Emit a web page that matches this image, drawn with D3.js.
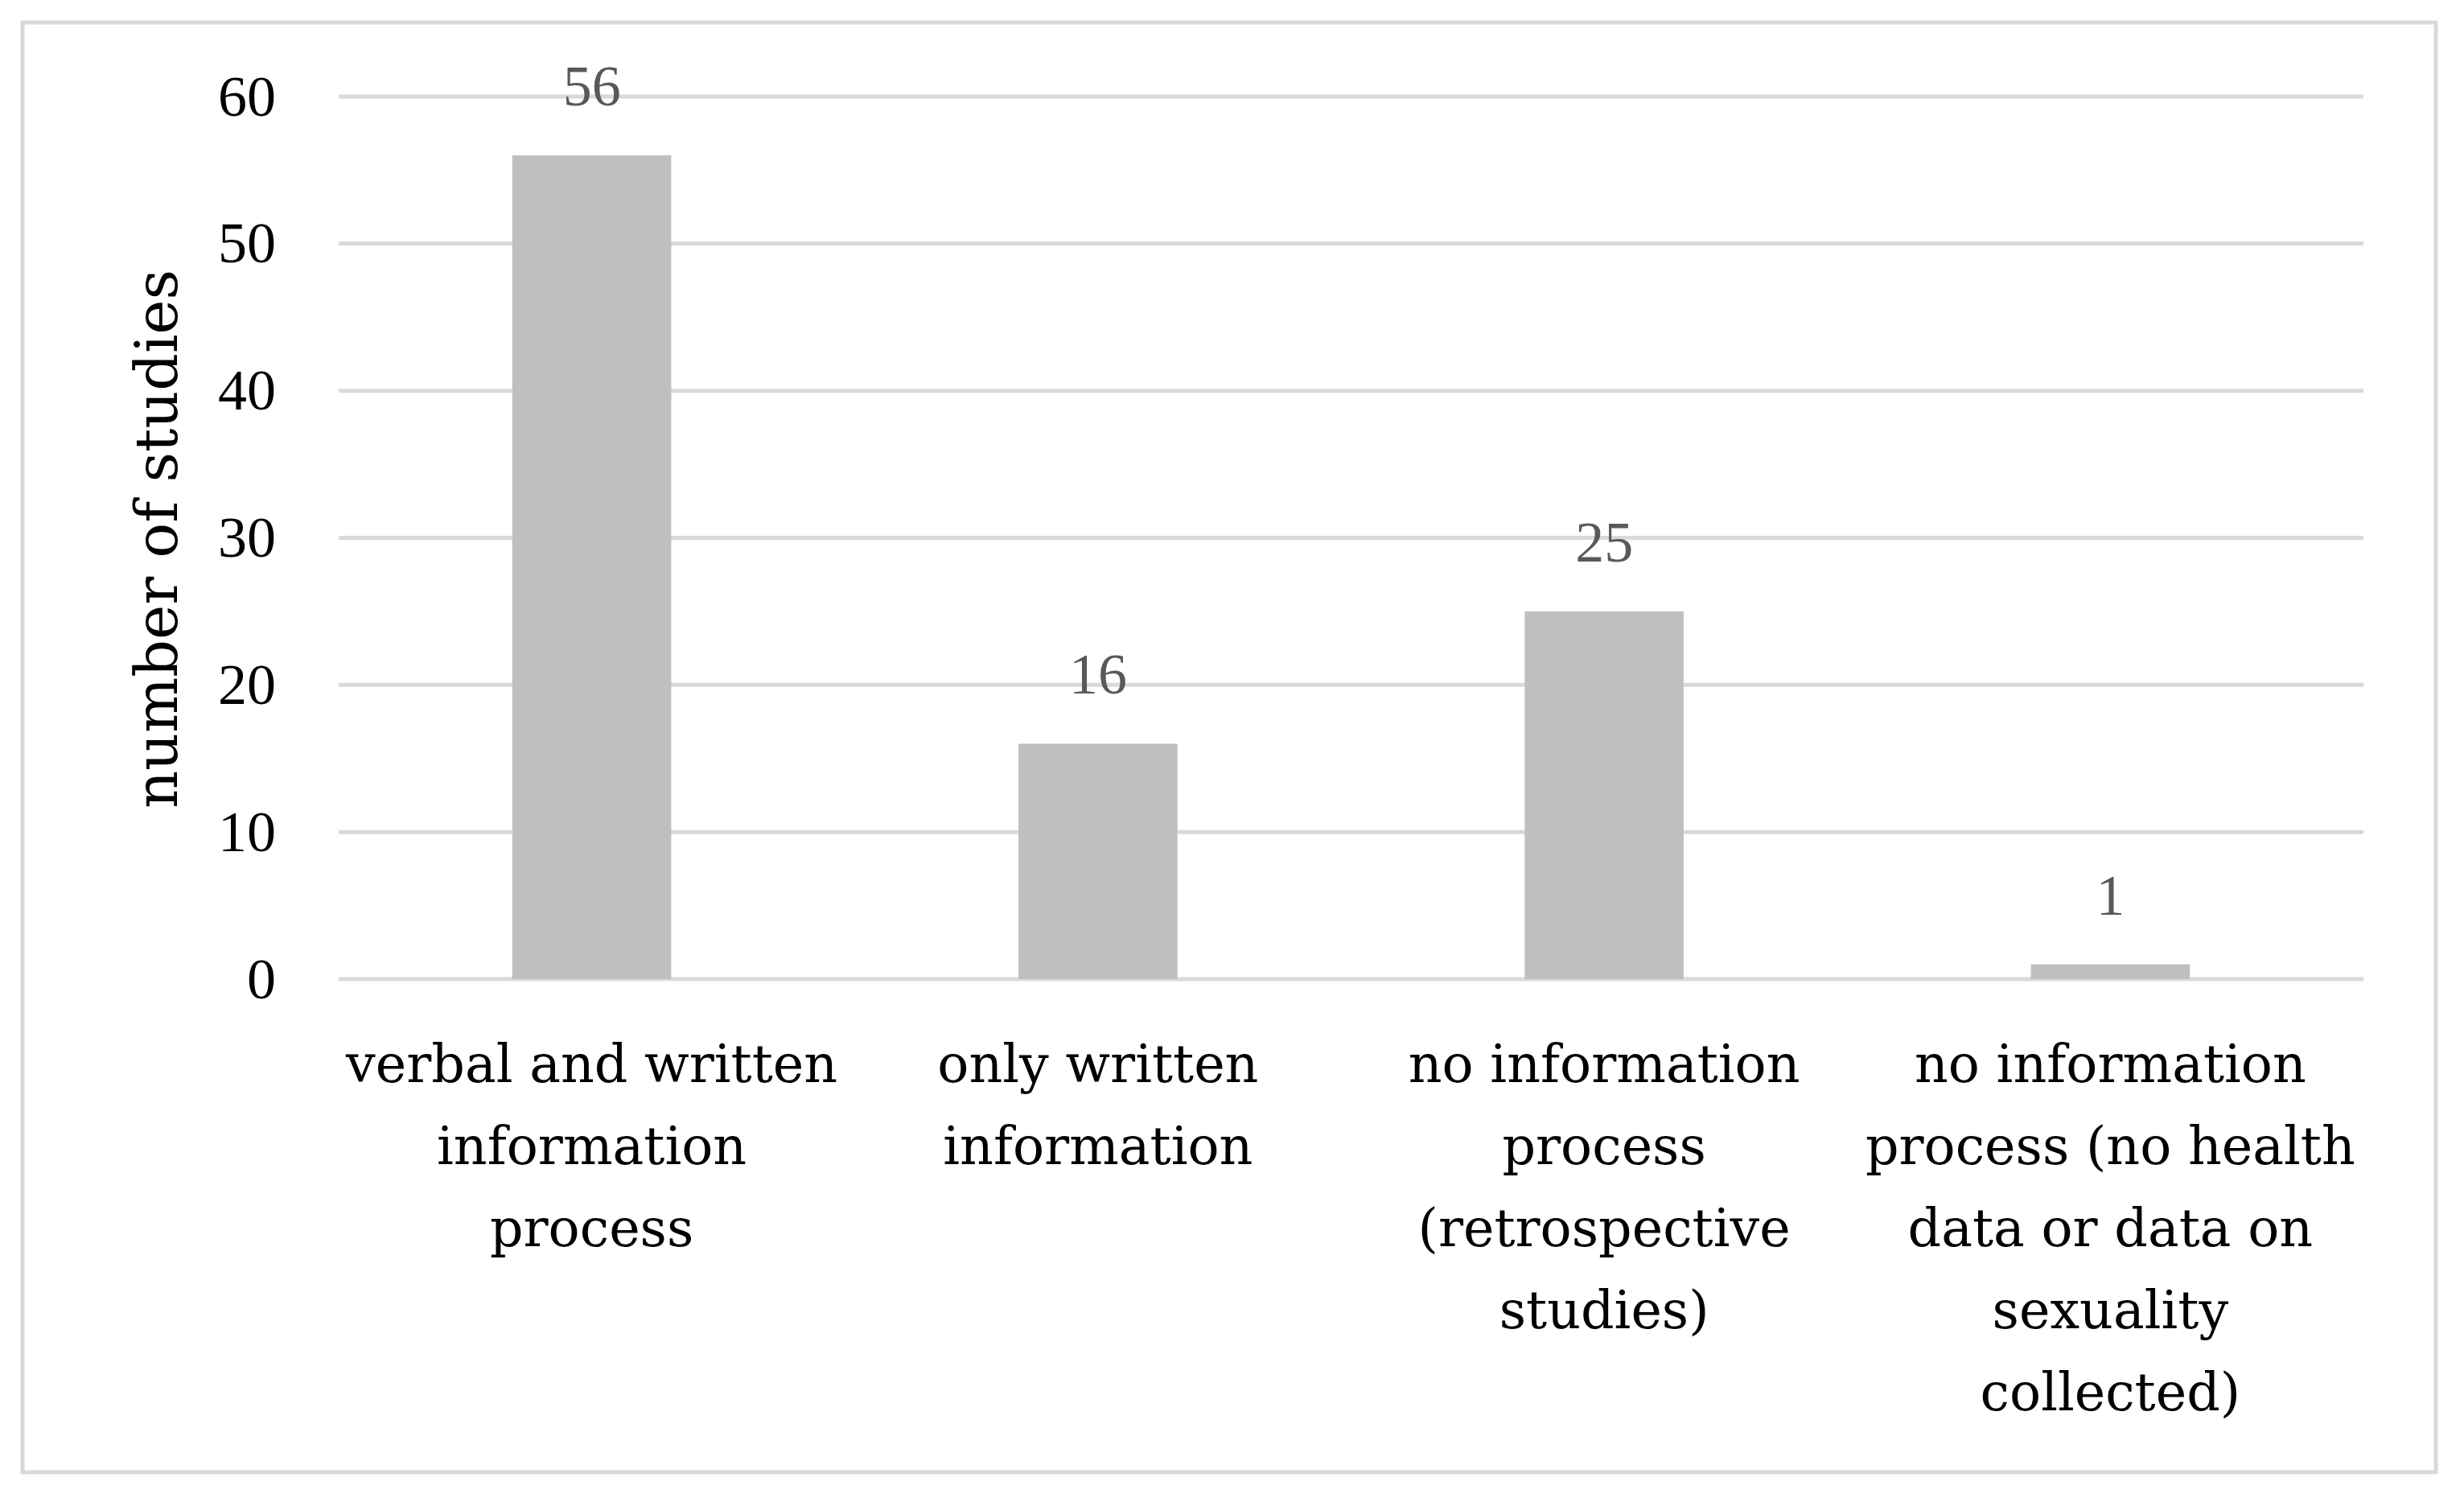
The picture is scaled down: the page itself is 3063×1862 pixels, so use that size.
<!DOCTYPE html>
<html>
<head>
<meta charset="utf-8">
<script src="https://cdn.jsdelivr.net/npm/d3@7"></script>
<style>
  body { margin: 0; background: #ffffff; }
  svg { display: block; }
</style>
</head>
<body>
<svg width="3063" height="1862"></svg>
<script>
// data
var categories = [
    ['verbal and written', 'information', 'process'],
    ['only written', 'information'],
    ['no information', 'process', '(retrospective', 'studies)'],
    ['no information', 'process (no health', 'data or data on', 'sexuality', 'collected)']
];
var counts = [56, 16, 25, 1];
var yTicks = [0, 10, 20, 30, 40, 50, 60];

(function() {
var svg = d3.select('svg');

// outer frame
svg.append('rect')
    .attr('x', 28).attr('y', 28)
    .attr('width', 3000).attr('height', 1802)
    .attr('fill', 'white')
    .attr('stroke', '#d9d9d9')
    .attr('stroke-width', 5);

var plotL = 421, plotR = 2938, plotT = 120, plotB = 1217;

var x = d3.scaleBand()
    .domain(d3.range(counts.length))
    .range([plotL, plotR])
    .paddingInner(0.686)
    .paddingOuter(0.343);

var y = d3.scaleLinear().domain([0, 60]).range([plotB, plotT]);

// gridlines
svg.append('g')
    .selectAll('line')
    .data(yTicks)
    .enter()
    .append('line')
    .attr('x1', plotL).attr('x2', plotR)
    .attr('y1', function(d) { return y(d); })
    .attr('y2', function(d) { return y(d); })
    .attr('stroke', '#d9d9d9')
    .attr('stroke-width', 5);

// y axis labels
var yAxis = svg.append('g')
    .attr('transform', 'translate(' + (plotL - 78) + ',0)')
    .call(d3.axisLeft(y).tickValues(yTicks).tickSize(0).tickPadding(0));
yAxis.select('.domain').remove();
yAxis.selectAll('text')
    .attr('font-family', 'Liberation Serif')
    .attr('font-size', 72)
    .attr('fill', '#000');

// bars
svg.selectAll('.bar')
    .data(counts)
    .enter()
    .append('rect')
    .attr('class', 'bar')
    .attr('x', function(d, i) { return x(i); })
    .attr('y', function(d) { return y(d); })
    .attr('width', x.bandwidth())
    .attr('height', function(d) { return plotB - y(d); })
    .attr('fill', '#bfbfbf');

// value labels
svg.selectAll('.val')
    .data(counts)
    .enter()
    .append('text')
    .attr('class', 'val')
    .attr('x', function(d, i) { return x(i) + x.bandwidth() / 2; })
    .attr('y', function(d) { return y(d) - 62; })
    .attr('text-anchor', 'middle')
    .attr('font-family', 'Liberation Serif')
    .attr('font-size', 72)
    .attr('fill', '#595959')
    .text(function(d) { return d; });

// category labels
var cat = svg.selectAll('.cat')
    .data(categories)
    .enter()
    .append('text')
    .attr('class', 'cat')
    .attr('text-anchor', 'middle')
    .attr('font-family', 'DejaVu Serif')
    .attr('font-size', 65)
    .attr('fill', '#000');
cat.selectAll('tspan')
    .data(function(d, i) { return d.map(function(s) { return {s: s, i: i}; }); })
    .enter()
    .append('tspan')
    .attr('x', function(d) { return x(d.i) + x.bandwidth() / 2; })
    .attr('y', function(d, j) { return 1345 + j * 102; })
    .text(function(d) { return d.s; });

// y axis title
svg.append('text')
    .attr('transform', 'translate(220,670) rotate(-90)')
    .attr('text-anchor', 'middle')
    .attr('font-family', 'DejaVu Serif')
    .attr('font-size', 73)
    .attr('fill', '#000')
    .text('number of studies');
})();
</script>
</body>
</html>
